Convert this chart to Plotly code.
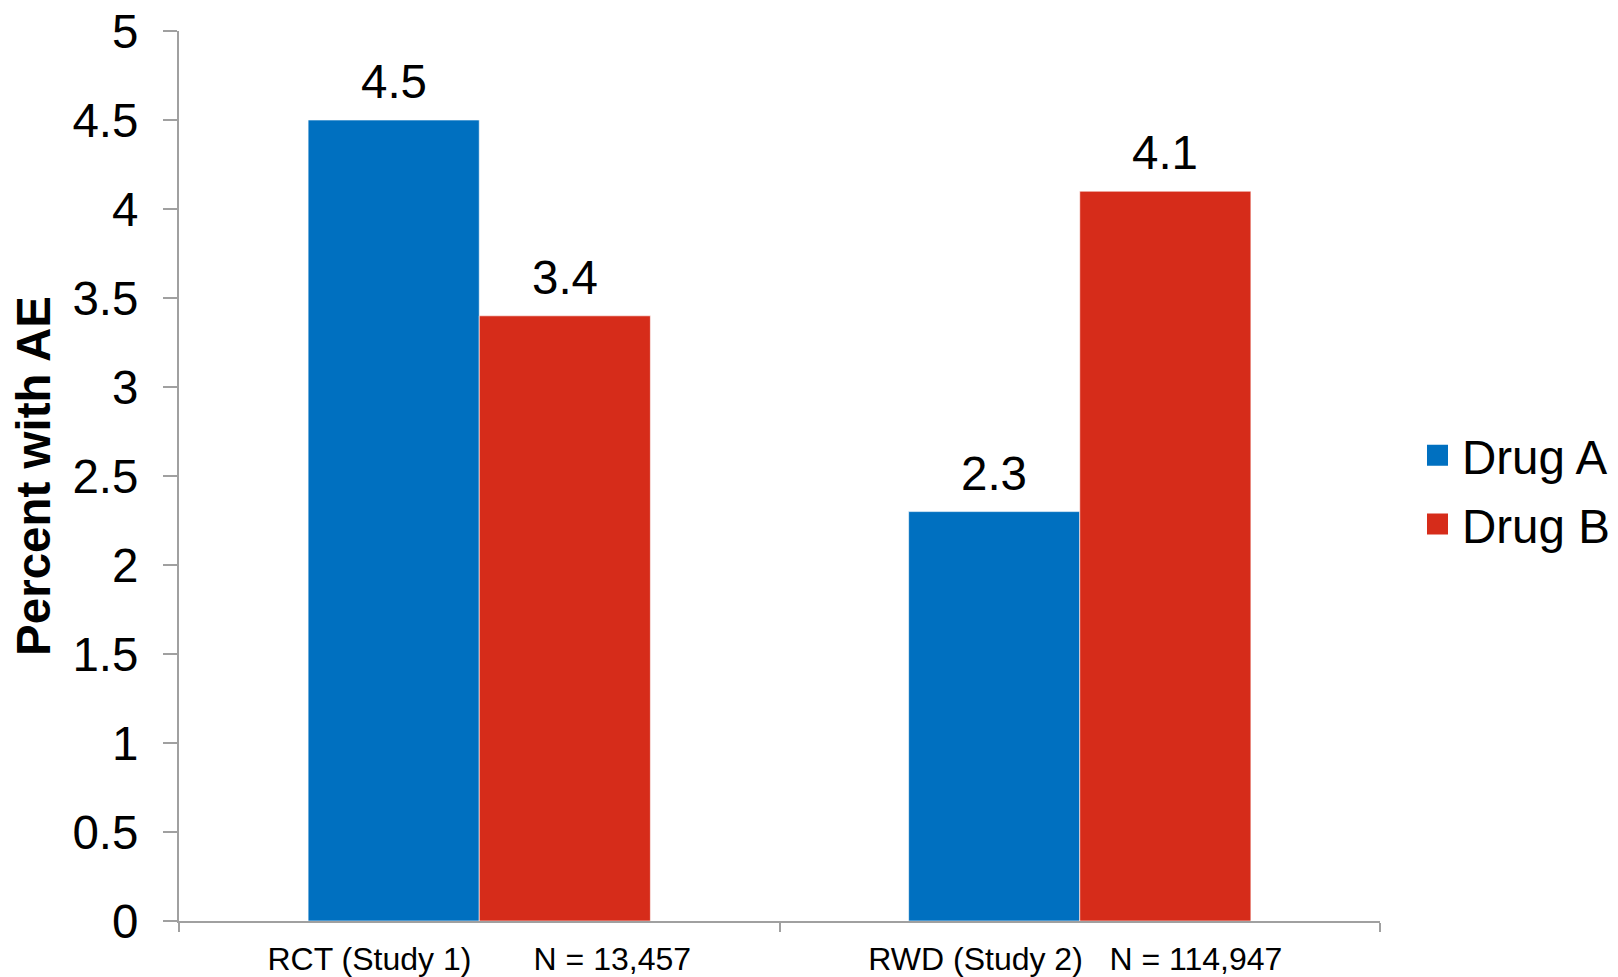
import plotly.graph_objects as go

# Study labels (non-breaking spaces keep the gap before the sample size)
studies = ["RCT (Study 1)", "RWD (Study 2)"]
sample_sizes = ["N = 13,457", "N = 114,947"]
gaps = [7, 3]
trailing = [0, 1]
drug_a = [4.5, 2.3]
drug_b = [3.4, 4.1]
series_names = ["Drug A", "Drug B"]
y_ticks = [0, 0.5, 1, 1.5, 2, 2.5, 3, 3.5, 4, 4.5, 5]

BLUE = "#0070C0"
RED = "#D62C1A"
AXIS = "#A0A0A0"
FONT = "Liberation Sans, Arial, sans-serif"
BIG = 47.5

NB = "\u00a0"
categories = [s + NB * g + n + NB * t
              for s, g, n, t in zip(studies, gaps, sample_sizes, trailing)]

BAR_GAP = 0.43
bar_w = (1 - BAR_GAP) / 2

fig = go.Figure()
for name, vals, col in [(series_names[0], drug_a, BLUE), (series_names[1], drug_b, RED)]:
    fig.add_trace(go.Bar(x=categories, y=vals, name=name, marker_color=col,
                         marker_line=dict(width=1, color="rgba(255,255,255,0.6)"),
                         showlegend=False))
    # legend entry with a larger square swatch
    fig.add_trace(go.Scatter(x=[None], y=[None], mode="markers", name=name,
                             legendgroup=name,
                             marker=dict(symbol="square", size=16, color=col,
                                         line=dict(color=col, width=5))))

# value labels above each bar
for i in range(len(categories)):
    for vals, off in [(drug_a, -bar_w / 2), (drug_b, bar_w / 2)]:
        fig.add_annotation(x=i + off, y=vals[i], xref="x", yref="y",
                           text=f"{vals[i]:g}", showarrow=False,
                           yanchor="bottom", yshift=10,
                           font=dict(size=BIG, color="black", family=FONT))

fig.update_layout(
    width=1618, height=977,
    margin=dict(l=179, r=238, t=31, b=56),
    paper_bgcolor="white", plot_bgcolor="white",
    barmode="group", bargap=BAR_GAP, bargroupgap=0,
    font=dict(family=FONT, color="black"),
    legend=dict(xref="container", yref="container",
                x=0.8733, y=0.4985, xanchor="left", yanchor="middle",
                font=dict(size=BIG, family=FONT), itemwidth=39,
                traceorder="grouped", tracegroupgap=4,
                bgcolor="rgba(0,0,0,0)"),
)
fig.update_xaxes(
    automargin=False,
    showline=True, linecolor=AXIS, linewidth=2,
    ticks="outside", tickson="boundaries", ticklen=9, tickwidth=2, tickcolor=AXIS,
    tickfont=dict(size=32, family=FONT, color="black"),
    ticklabelstandoff=9,
    showgrid=False, zeroline=False,
)
fig.update_yaxes(
    automargin=False,
    range=[0, 5], tickvals=y_ticks, ticktext=[f"{v:g}" for v in y_ticks],
    showline=True, linecolor=AXIS, linewidth=2,
    ticks="outside", ticklen=14, tickwidth=2, tickcolor=AXIS,
    tickfont=dict(size=BIG, family=FONT, color="black"),
    ticklabelstandoff=15,
    showgrid=False, zeroline=False,
    title=dict(text="<b>Percent with AE</b>", standoff=7,
               font=dict(size=BIG, family=FONT, color="black")),
)

fig.write_html("out.html")
